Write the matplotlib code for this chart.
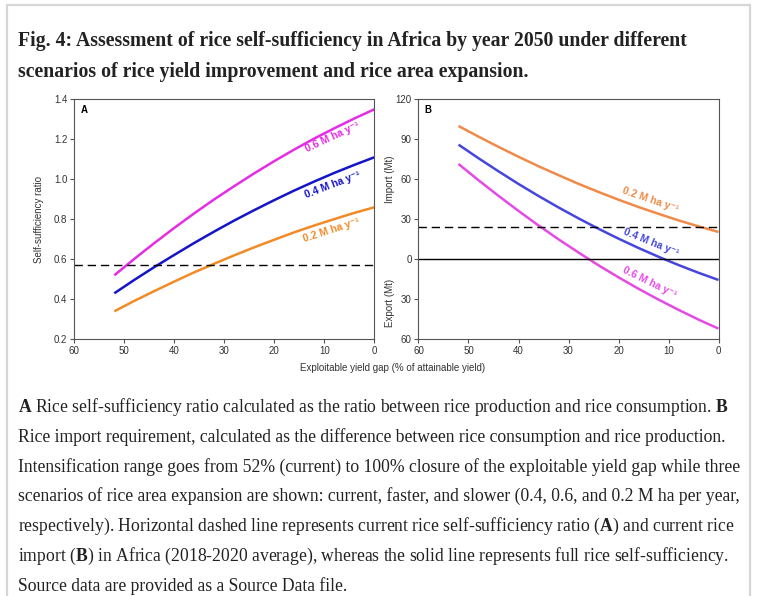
import matplotlib
matplotlib.use("Agg")
import matplotlib.pyplot as plt
from matplotlib.patches import Rectangle
from matplotlib.transforms import blended_transform_factory

plt.rcParams['mathtext.fontset'] = 'custom'
plt.rcParams['mathtext.rm'] = 'Liberation Serif'
plt.rcParams['mathtext.bf'] = 'Liberation Serif:bold'
plt.rcParams['mathtext.default'] = 'regular'

# exploitable yield gap (% of attainable yield)
gap = [52, 48, 44, 40, 36, 32, 28, 24, 20, 16, 12, 8, 4, 0]

# panel A: self-sufficiency ratio, by area expansion scenario
ssr_06 = [0.52, 0.602, 0.681, 0.757, 0.830, 0.900, 0.966, 1.030, 1.091,
          1.149, 1.204, 1.255, 1.304, 1.35]
ssr_04 = [0.43, 0.497, 0.561, 0.622, 0.682, 0.739, 0.794, 0.846, 0.896,
          0.944, 0.989, 1.032, 1.072, 1.11]
ssr_02 = [0.34, 0.392, 0.441, 0.489, 0.535, 0.578, 0.620, 0.660, 0.698,
          0.735, 0.769, 0.801, 0.832, 0.86]
ssr_current = 0.57

# panel B: import (+) / export (-) in Mt
imp_02 = [100, 92.0, 84.3, 76.9, 69.8, 63.1, 56.6, 50.5, 44.7, 39.2, 34.1,
          29.2, 24.7, 20.5]
imp_04 = [86, 75.8, 66.0, 56.5, 47.5, 38.9, 30.7, 22.9, 15.5, 8.5, 1.9,
          -4.3, -10.1, -15.5]
imp_06 = [71.5, 59.3, 47.6, 36.3, 25.4, 15.0, 5.1, -4.5, -13.5, -22.1,
          -30.2, -37.9, -45.2, -52]
imp_current = 24.5

scen_labels = ['0.2 M ha y\u207b\u00b9', '0.4 M ha y\u207b\u00b9',
               '0.6 M ha y\u207b\u00b9']

title_lines = [
    "Fig. 4: Assessment of rice self-sufficiency in Africa by year 2050 under different",
    "scenarios of rice yield improvement and rice area expansion.",
]
caption_lines = [
    r"$\mathbf{A}$ Rice self-sufficiency ratio calculated as the ratio between rice production and rice consumption. $\mathbf{B}$",
    "Rice import requirement, calculated as the difference between rice consumption and rice production.",
    "Intensification range goes from 52% (current) to 100% closure of the exploitable yield gap while three",
    "scenarios of rice area expansion are shown: current, faster, and slower (0.4, 0.6, and 0.2 M ha per year,",
    r"respectively). Horizontal dashed line represents current rice self-sufficiency ratio ($\mathbf{A}$) and current rice",
    r"import ($\mathbf{B}$) in Africa (2018-2020 average), whereas the solid line represents full rice self-sufficiency.",
    "Source data are provided as a Source Data file.",
]

W, H = 757, 596
fig = plt.figure(figsize=(W / 100, H / 100), dpi=100)
fig.patch.set_facecolor('white')

# page border
fig.patches.append(Rectangle((7 / W, -0.05), 743 / W, 1.05 - 5 / H,
                             transform=fig.transFigure, fill=False,
                             edgecolor='#d6d6d6', linewidth=1.6))

renderer = fig.canvas.get_renderer()


def text_width(text, family, weight):
    t = fig.text(0, 0, text, family=family, weight=weight, fontsize=12)
    w = t.get_window_extent(renderer).width
    t.remove()
    return w


ts = 12 * 662 / text_width(title_lines[0], 'Liberation Serif', 'bold')
for i, line in enumerate(title_lines):
    fig.text(18 / W, 1 - (41 + 31 * i) / H, line, family='Liberation Serif',
             weight='bold', fontsize=ts, va='center', color='#222222')

widest = max(text_width(l, 'Liberation Serif', 'normal') for l in caption_lines)
cs = 12 * 724 / widest
for i, line in enumerate(caption_lines):
    fig.text(18 / W, 1 - (407 + 29.8 * i) / H, line, family='Liberation Serif',
             fontsize=cs, va='center', color='#222222')


def style_axes(ax):
    for sp in ax.spines.values():
        sp.set_color('#555555')
        sp.set_linewidth(0.8)
    ax.tick_params(direction='out', length=3, width=0.8, color='#555555',
                   labelsize=7, labelcolor='#333333', pad=2)
    for lab in ax.get_xticklabels() + ax.get_yticklabels():
        lab.set_family('Liberation Sans')
    ax.set_xlim(60, 0)
    ax.set_xticks(range(60, -1, -10))


# ---- panel A
axA = fig.add_axes([74.3 / W, 1 - 339.3 / H, 300 / W, 240 / H])
axA.plot(gap, ssr_06, color='#e42de4', lw=1.8, solid_capstyle='butt')
axA.plot(gap, ssr_04, color='#1414c8', lw=1.8, solid_capstyle='butt')
axA.plot(gap, ssr_02, color='#f28a26', lw=1.8, solid_capstyle='butt')
axA.axhline(ssr_current, color='black', lw=1.0, dashes=(6, 3.5))
axA.set_ylim(0.2, 1.4)
axA.set_yticks([0.2, 0.4, 0.6, 0.8, 1.0, 1.2, 1.4])
axA.set_yticklabels(['%.1f' % v for v in axA.get_yticks()])
style_axes(axA)
axA.set_ylabel('Self-sufficiency ratio', fontsize=7, family='Liberation Sans',
               color='#333333')
axA.yaxis.set_label_coords(-0.1, 0.5)
axA.text(0.02, 0.955, 'A', transform=axA.transAxes, fontsize=7,
         weight='bold', family='Liberation Sans', va='center')
lab_kw = dict(fontsize=7.5, weight='bold', family=['Liberation Sans', 'DejaVu Sans'],
              ha='center', va='center')
axA.text(8.3, 1.21, scen_labels[2], color='#e42de4', rotation=25, **lab_kw)
axA.text(8.3, 0.97, scen_labels[1], color='#1414c8', rotation=21, **lab_kw)
axA.text(8.5, 0.745, scen_labels[0], color='#f28a26', rotation=18, **lab_kw)

# ---- panel B
axB = fig.add_axes([418.5 / W, 1 - 339.3 / H, 300 / W, 240 / H])
axB.plot(gap, imp_02, color='#f08a48', lw=1.8, solid_capstyle='butt')
axB.plot(gap, imp_04, color='#4646dc', lw=1.8, solid_capstyle='butt')
axB.plot(gap, imp_06, color='#e54ae5', lw=1.8, solid_capstyle='butt')
axB.axhline(imp_current, color='black', lw=1.0, dashes=(6, 3.5))
axB.axhline(0, color='black', lw=1.0)
axB.set_ylim(-60, 120)
yt = [-60, -30, 0, 30, 60, 90, 120]
axB.set_yticks(yt)
axB.set_yticklabels([str(abs(v)) for v in yt])
style_axes(axB)
trB = blended_transform_factory(axB.transAxes, axB.transData)
axB.text(-0.095, 60, 'Import (Mt)', transform=trB, rotation=90, fontsize=7,
         family='Liberation Sans', color='#333333', ha='center', va='center')
axB.text(-0.095, -33, 'Export (Mt)', transform=trB, rotation=90, fontsize=7,
         family='Liberation Sans', color='#333333', ha='center', va='center')
axB.text(0.02, 0.955, 'B', transform=axB.transAxes, fontsize=7,
         weight='bold', family='Liberation Sans', va='center')
axB.text(13.7, 44.5, scen_labels[0], color='#f08a48', rotation=-19, **lab_kw)
axB.text(13.5, 12.5, scen_labels[1], color='#4646dc', rotation=-22, **lab_kw)
axB.text(13.8, -17.5, scen_labels[2], color='#e54ae5', rotation=-26, **lab_kw)

fig.text(393 / W, 1 - 368 / H, 'Exploitable yield gap (% of attainable yield)',
         fontsize=7, family='Liberation Sans', color='#333333',
         ha='center', va='center')

fig.savefig('out.png', dpi=100)
